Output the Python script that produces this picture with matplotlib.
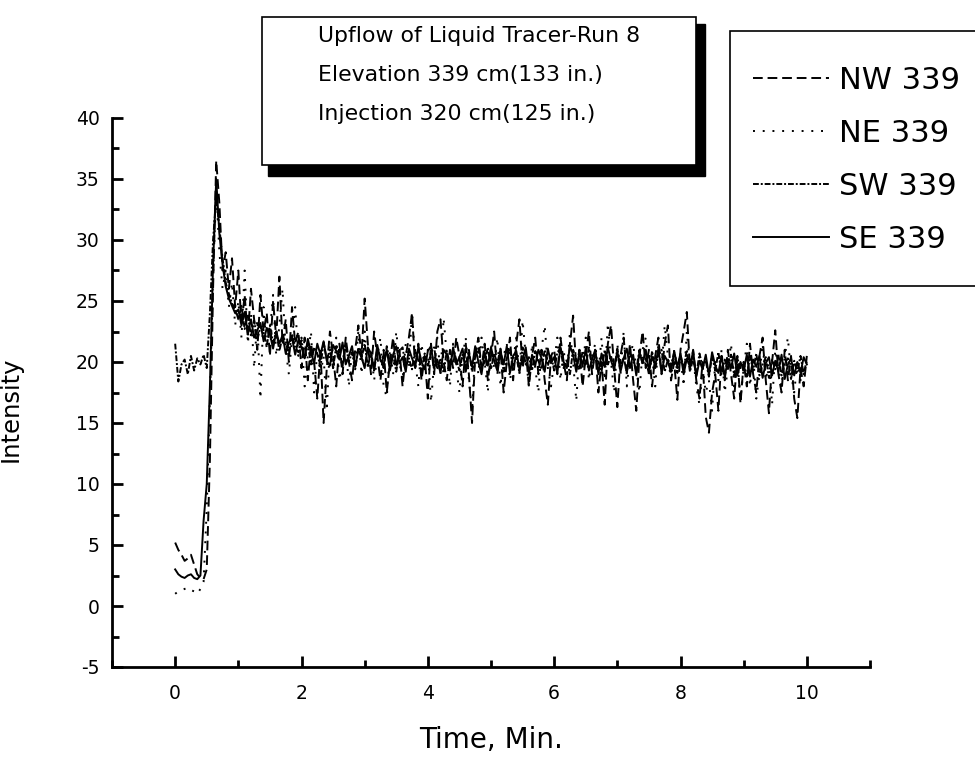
# Liquid tracer upflow chart (Run 8)
# Redraws the four probe traces at elevation 339 cm against time.

import numpy as np
import matplotlib
matplotlib.use("Agg")
import matplotlib.pyplot as plt
from matplotlib.patches import Rectangle
from matplotlib.ticker import MultipleLocator

# Sample times (min), one reading every 0.05 min from 0 to 10
time_min = np.round(np.arange(0, 10.001, 0.05), 2)

# Intensity readings, one row per minute (20 values), last value at t = 10
nw_339 = [
    5.2, 4.6, 4.2, 3.7, 3.9, 4.2, 3.4, 2.6, 2.3, 2.2, 3.0, 12.0, 26.0, 36.5, 33.0, 27.5, 29.0, 26.0, 28.5, 24.5,
    27.5, 23.0, 25.5, 22.0, 26.0, 23.5, 21.0, 25.5, 22.5, 24.0, 20.5, 25.0, 22.0, 27.0, 21.5, 23.5, 20.0, 24.5, 21.5, 22.5,
    19.5, 22.0, 18.5, 21.5, 20.0, 17.0, 21.0, 15.0, 19.5, 22.5, 20.5, 18.0, 21.5, 19.0, 22.0, 20.0, 18.5, 21.0, 23.0, 20.5,
    25.2, 21.5, 19.0, 22.5, 20.5, 18.5, 21.0, 17.5, 20.0, 22.0, 19.5, 21.0, 18.0, 20.5, 22.0, 24.0, 19.5, 21.5, 18.5, 20.5,
    17.0, 21.5, 19.0, 22.5, 23.5, 20.0, 18.5, 21.0, 19.5, 22.0, 20.5, 18.0, 21.5, 19.0, 15.0, 20.5, 22.0, 19.5, 21.5, 18.5,
    20.5, 22.5, 19.0, 21.0, 17.5, 20.0, 22.0, 18.5, 21.5, 23.5, 19.5, 21.0, 18.0, 20.5, 22.0, 19.0, 21.0, 18.5, 16.5, 20.5,
    21.0, 19.0, 22.0, 20.0, 18.5, 21.5, 23.8, 19.5, 21.0, 18.0, 20.5, 22.5, 19.0, 21.0, 17.5, 20.0, 16.5, 21.5, 23.0, 19.5,
    16.3, 20.5, 22.0, 19.0, 21.5, 18.5, 16.0, 20.5, 22.5, 19.5, 21.0, 18.0, 20.5, 22.0, 19.0, 21.5, 23.0, 18.5, 20.0, 16.9,
    21.0, 22.5, 24.1, 19.5, 21.0, 18.5, 17.0, 20.0, 15.5, 14.2, 17.5, 19.0, 16.0, 20.5, 18.5, 21.0, 19.0, 17.0, 20.5, 16.6,
    20.0, 18.0, 21.5, 19.0, 17.5, 20.5, 22.0, 18.5, 15.8, 20.0, 22.6, 19.0, 17.5, 21.0, 18.5, 20.5, 17.0, 15.4, 19.5, 18.0,
    20.5,
]

ne_339 = [
    1.0, 1.2, 1.3, 1.4, 1.5, 1.3, 1.2, 1.0, 1.4, 2.0, 8.0, 17.0, 27.0, 34.0, 29.0, 26.0, 27.5, 24.5, 26.5, 23.0,
    25.0, 22.0, 27.5, 21.5, 24.0, 19.5, 23.5, 17.0, 24.5, 21.0, 22.5, 25.5, 20.5, 23.0, 26.0, 21.0, 19.0, 22.0, 24.5, 20.5,
    22.0, 18.0, 20.5, 22.5, 17.5, 21.0, 19.0, 20.5, 16.0, 21.5, 19.5, 22.0, 18.5, 20.0, 21.5, 18.0, 21.0, 19.5, 22.5, 19.0,
    22.5, 19.5, 21.0, 18.5, 20.5, 22.0, 18.0, 17.1, 21.0, 19.0, 22.5, 20.0, 18.5, 21.5, 19.5, 24.1, 20.0, 18.0, 21.5, 19.5,
    21.0, 16.7, 20.0, 22.0, 19.0, 23.6, 20.5, 18.0, 21.5, 19.5, 17.5, 20.5, 22.0, 18.5, 16.0, 21.0, 19.0, 22.0, 20.0, 17.5,
    21.5, 19.5, 22.0, 18.0, 20.5, 21.5, 18.5, 20.0, 22.0, 19.0, 23.4, 20.5, 18.0, 21.5, 19.5, 17.5, 21.0, 23.0, 19.5, 18.0,
    20.0, 22.0, 18.5, 21.0, 19.0, 22.5, 20.0, 16.8, 21.0, 19.5, 22.0, 18.5, 20.5, 21.5, 19.0, 22.0, 18.5, 23.2, 20.0, 17.5,
    21.5, 19.0, 22.5, 18.0, 20.5, 21.5, 19.5, 17.5, 21.0, 22.0, 19.0, 20.5, 18.0, 21.5, 19.5, 23.0, 20.5, 18.5, 21.0, 19.5,
    20.5, 18.0, 22.5, 19.5, 20.5, 18.0, 16.5, 19.5, 17.5, 18.5, 16.0, 20.0, 18.5, 21.0, 17.5, 19.5, 21.5, 18.0, 20.0, 17.0,
    19.5, 21.5, 18.0, 20.5, 17.0, 19.0, 21.5, 18.5, 20.0, 16.5, 21.0, 19.5, 18.0, 20.5, 22.0, 19.0, 17.5, 20.0, 18.5, 19.5,
    20.0,
]

sw_339 = [
    21.5, 18.4, 19.8, 20.2, 19.0, 20.5, 19.3, 20.3, 19.8, 20.6, 19.5, 24.0, 30.0, 33.5, 31.0, 28.5, 26.5, 25.6, 24.8, 24.4,
    23.5, 24.6, 22.7, 23.9, 22.1, 23.4, 21.8, 22.9, 22.4, 21.3, 23.0, 21.6, 22.5, 20.9, 22.1, 21.7, 20.6, 22.3, 21.2, 20.8,
    21.8, 20.3, 21.5, 19.8, 21.2, 20.7, 19.6, 21.6, 20.2, 21.0, 19.5, 21.3, 20.5, 19.7, 21.4, 20.0, 20.8, 19.4, 21.2, 20.3,
    21.5, 19.6, 20.8, 19.3, 21.1, 20.4, 19.5, 21.3, 19.9, 20.6, 19.2, 20.9, 21.2, 19.6, 20.3, 19.4, 21.0, 20.1, 19.3, 20.7,
    19.6, 20.8, 21.2, 19.4, 20.3, 19.1, 20.9, 19.8, 21.1, 20.2, 19.3, 20.6, 19.7, 21.0, 19.2, 20.4, 21.1, 19.5, 20.0, 21.2,
    19.4, 20.7, 19.9, 21.1, 19.2, 20.3, 21.0, 19.6, 20.5, 19.1, 21.2, 19.8, 20.4, 19.3, 20.9, 20.1, 19.4, 21.0, 19.7, 20.6,
    19.3, 20.8, 21.1, 19.5, 20.2, 19.0, 21.0, 20.3, 19.4, 20.9, 19.7, 21.2, 19.5, 20.6, 20.0, 19.2, 21.0, 19.8, 20.5, 19.3,
    21.1, 19.6, 20.4, 19.1, 20.8, 20.1, 19.3, 21.0, 19.8, 20.3, 19.0, 20.9, 19.5, 20.6, 21.0, 19.2, 20.2, 19.7, 20.8, 19.1,
    20.6, 19.5, 21.0, 19.2, 20.3, 18.9, 20.7, 19.6, 20.1, 18.8, 20.5, 19.3, 20.8, 19.0, 20.2, 19.4, 20.6, 18.9, 20.3, 19.5,
    20.0, 18.8, 20.5, 19.3, 20.7, 18.9, 19.8, 20.4, 18.7, 20.2, 19.4, 20.6, 18.9, 19.9, 20.3, 18.6, 20.1, 19.2, 20.5, 19.0,
    20.2,
]

se_339 = [
    3.0, 2.6, 2.4, 2.3, 2.5, 2.6, 2.3, 2.2, 2.5, 7.0, 10.0, 18.0, 28.0, 35.0, 30.5, 28.0, 26.2, 25.2, 24.6, 24.0,
    24.3, 23.0, 24.1, 22.4, 23.5, 22.0, 22.6, 23.2, 21.7, 22.8, 22.3, 21.1, 22.5, 21.5, 22.2, 20.7, 21.6, 22.0, 20.6, 21.8,
    21.2, 20.3, 21.9, 20.8, 19.9, 21.5, 20.6, 21.7, 20.1, 19.7, 21.4, 20.9, 20.2, 21.6, 19.8, 20.5, 21.3, 19.6, 21.0, 20.4,
    19.5, 21.2, 20.7, 19.4, 21.4, 20.1, 19.8, 21.0, 19.3, 20.6, 21.3, 19.9, 20.4, 19.2, 21.1, 20.3, 19.6, 21.2, 20.0, 19.4,
    20.9, 21.3, 19.5, 20.2, 19.1, 21.0, 20.6, 19.3, 21.2, 19.8, 20.4, 21.1, 19.2, 20.7, 19.6, 21.3, 20.0, 19.0, 20.8, 19.7,
    21.2, 20.1, 19.3, 20.9, 19.8, 21.3, 19.1, 20.5, 20.9, 19.4, 20.2, 21.2, 19.0, 20.6, 19.7, 21.0, 20.3, 19.2, 21.1, 19.9,
    20.4, 19.1, 21.2, 20.0, 19.5, 21.3, 20.6, 19.2, 20.8, 19.7, 21.1, 19.3, 20.2, 21.0, 19.0, 20.7, 19.6, 21.2, 20.1, 19.4,
    20.9, 19.2, 20.3, 21.1, 19.5, 20.6, 18.9, 20.8, 19.9, 21.0, 19.3, 20.4, 19.7, 21.1, 19.1, 20.5, 20.0, 19.2, 20.9, 19.6,
    20.7, 19.0, 20.3, 19.6, 20.9, 18.8, 20.1, 19.4, 20.6, 18.9, 20.8, 19.7, 19.1, 20.5, 18.8, 20.2, 19.5, 20.7, 18.9, 20.0,
    19.3, 20.6, 18.8, 20.2, 19.6, 20.5, 18.7, 19.9, 20.4, 18.9, 20.1, 19.2, 20.6, 18.6, 19.8, 20.3, 18.9, 20.0, 19.1, 20.4,
    19.8,
]

series_labels = ["NW 339", "NE 339", "SW 339", "SE 339"]
info_lines = [
    "Upflow of Liquid Tracer-Run 8",
    "Elevation 339 cm(133 in.)",
    "Injection 320 cm(125 in.)",
]

W, H = 975, 757  # figure size in pixels


def px(x, y):
    """Convert pixel position (from top-left) to figure fraction."""
    return x / W, 1 - y / H


def draw_traces(ax):
    styles = [
        (0, (5, 2.5)),          # NW dashed
        (0, (1, 4)),            # NE dotted
        (0, (3, 1, 1, 1)),      # SW dash-dot
        "-",                    # SE solid
    ]
    for vals, lab, ls in zip([nw_339, ne_339, sw_339, se_339], series_labels, styles):
        ax.plot(time_min, vals, color="black", linestyle=ls, linewidth=1.4, label=lab)


def style_axes(ax):
    ax.set_xlim(-1, 11)
    ax.set_ylim(-5, 40)
    ax.spines["top"].set_visible(False)
    ax.spines["right"].set_visible(False)
    ax.spines["left"].set_linewidth(2.0)
    ax.spines["bottom"].set_linewidth(2.0)

    ax.xaxis.set_major_locator(MultipleLocator(2))
    ax.xaxis.set_minor_locator(MultipleLocator(1))
    ax.yaxis.set_major_locator(MultipleLocator(5))
    ax.yaxis.set_minor_locator(MultipleLocator(2.5))
    ax.tick_params(which="major", direction="in", length=8, width=2, labelsize=13.5)
    ax.tick_params(axis="y", which="major", pad=9)
    ax.tick_params(axis="x", which="major", pad=12)
    ax.tick_params(which="minor", direction="in", length=5, width=2)

    ax.set_xticks([0, 2, 4, 6, 8, 10])
    ax.set_xlabel("Time, Min.", fontsize=20, va="top")
    ax.xaxis.set_label_coords(0.5, -0.108)
    ax.set_ylabel("Intensity", fontsize=17.5)
    ax.yaxis.set_label_coords(-0.118, 0.47)


def draw_info_box(fig):
    # shadow first, then white box on top
    sx, sy = px(268, 176)
    fig.patches.append(Rectangle((sx, sy), (705 - 268) / W, (176 - 24) / H, transform=fig.transFigure,
                                 facecolor="black", edgecolor="black", zorder=1))
    bx, by = px(262, 165)
    fig.patches.append(Rectangle((bx, by), (696 - 262) / W, (165 - 17) / H, transform=fig.transFigure,
                                 facecolor="white", edgecolor="black", linewidth=1.2, zorder=2))
    for i, line in enumerate(info_lines):
        tx, ty = px(318, 42 + 39 * i)
        fig.text(tx, ty, line, fontsize=15.8, ha="left", va="baseline", zorder=3)


def draw_legend(fig, ax):
    lx, ly = px(730, 286)
    fig.patches.append(Rectangle((lx, ly), 1.05 - lx, (286 - 31) / H, transform=fig.transFigure,
                                 facecolor="white", edgecolor="black", linewidth=1.2, zorder=2))
    handles, labels = ax.get_legend_handles_labels()
    ax_x, ax_y = px(753, 66)
    leg = fig.legend(handles, labels, loc="upper left", bbox_to_anchor=(ax_x, ax_y),
                     frameon=False, fontsize=22, handlelength=2.5, handletextpad=0.3,
                     labelspacing=0.78, borderpad=0, borderaxespad=0)
    leg.set_zorder(3)


def main():
    plt.rcParams["axes.unicode_minus"] = False
    fig = plt.figure(figsize=(W / 100, H / 100), dpi=100)
    left, bottom = px(112, 667)
    right, top = px(870, 118)
    ax = fig.add_axes([left, bottom, right - left, top - bottom])

    draw_traces(ax)
    style_axes(ax)
    draw_info_box(fig)
    draw_legend(fig, ax)

    fig.savefig("out.png", dpi=100)


if __name__ == "__main__":
    main()
